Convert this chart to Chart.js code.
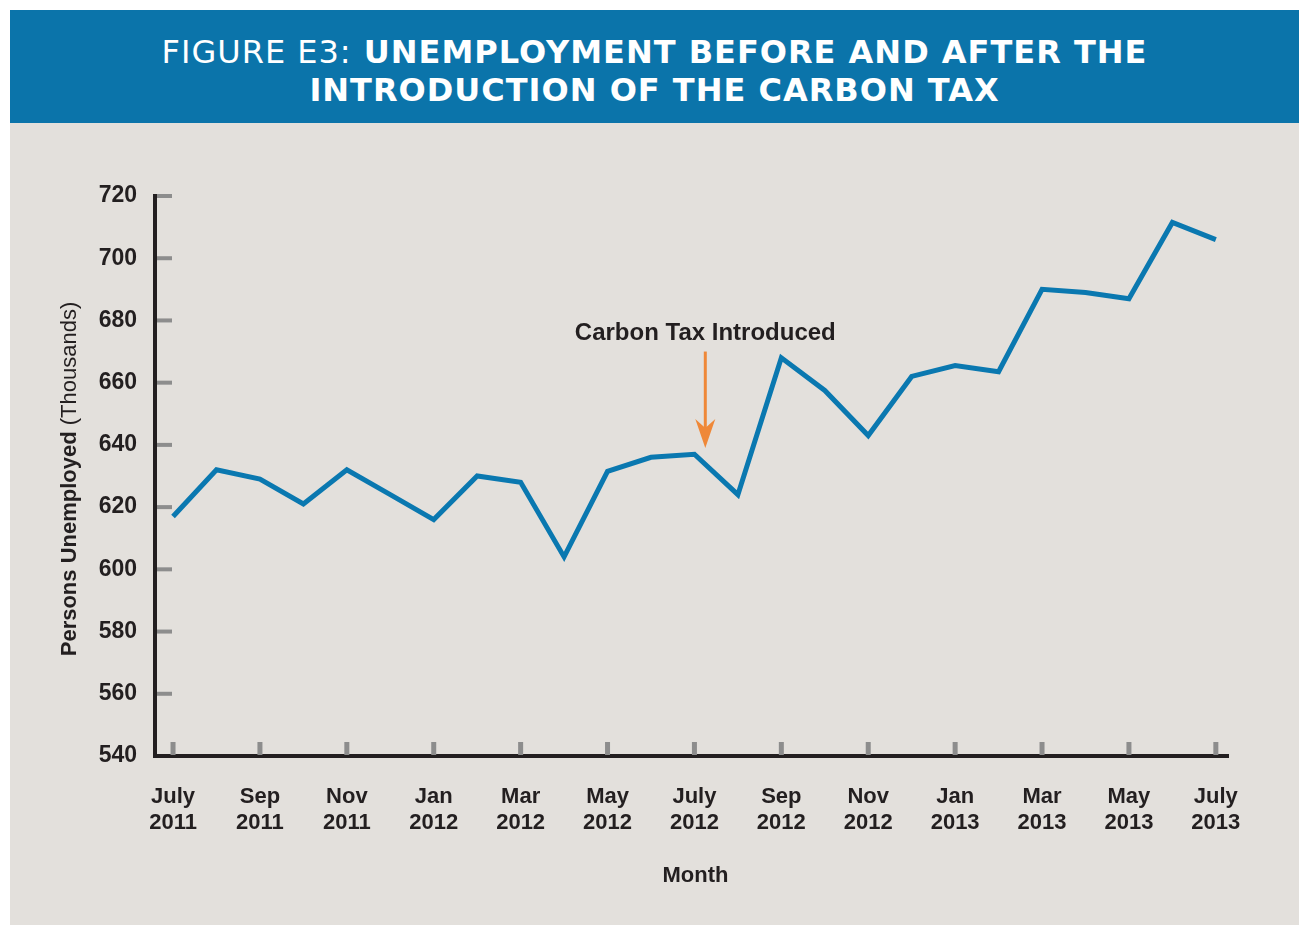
<!DOCTYPE html>
<html>
<head>
<meta charset="utf-8">
<script src="https://cdn.jsdelivr.net/npm/chart.js@4"></script>
<style>
  html, body { margin: 0; padding: 0; background: #ffffff; }
  #banner {
    position: absolute; left: 10px; top: 10px; width: 1289px; height: 113px;
    background: #0b74aa; color: #ffffff; text-align: center;
    font-family: "DejaVu Sans", sans-serif; font-weight: bold; font-size: 32px;
    letter-spacing: 1px;
    line-height: 38px; box-sizing: border-box; padding-top: 23px;
  }
  #banner .light { font-weight: normal; }
  #panel { position: absolute; left: 10px; top: 123px; width: 1289px; height: 802px; background: #e3e0dc; }
  #chart { position: absolute; left: 0; top: 0; }
</style>
</head>
<body>
<div id="banner"><span class="light">FIGURE E3:</span> UNEMPLOYMENT BEFORE AND AFTER THE<br>INTRODUCTION OF THE CARBON TAX</div>
<div id="panel"></div>
<canvas id="chart" width="1299" height="928"></canvas>
<script>
// monthly data, July 2011 - July 2013
var months = ['July','Aug','Sep','Oct','Nov','Dec','Jan','Feb','Mar','Apr','May','June',
              'July','Aug','Sep','Oct','Nov','Dec','Jan','Feb','Mar','Apr','May','June','July'];
var years = ['2011','2011','2011','2011','2011','2011','2012','2012','2012','2012','2012','2012',
             '2012','2012','2012','2012','2012','2012','2013','2013','2013','2013','2013','2013','2013'];
var unemployed = [617, 632, 629, 621, 632, 624, 616, 630, 628, 604, 631.5, 636,
                  637, 624, 668, 657.5, 643, 662, 665.5, 663.5, 690, 689, 687, 711.5, 706];
var yTicks = [540, 560, 580, 600, 620, 640, 660, 680, 700, 720];
var xTickIdx = [0, 2, 4, 6, 8, 10, 12, 14, 16, 18, 20, 22, 24];

// annotation
var annoText = 'Carbon Tax Introduced';
var annoX = 12.25;
var annoTextY = 676;
var arrowFrom = 670;
var arrowTo = 639;

var ink = '#231f20';
var points = [];
for (let i = 0; i < unemployed.length; i++) {
    points.push({x: i, y: unemployed[i]});
}

var decor = {
    id: 'decor',
    beforeDatasetsDraw: function(chart) {
        var ctx = chart.ctx, xs = chart.scales.x, ys = chart.scales.y;
        var a = chart.chartArea;
        ctx.save();
        ctx.fillStyle = '#8d8d8d';
        yTicks.forEach(function(v) {
            if (v === yTicks[0]) return;
            var py = ys.getPixelForValue(v);
            ctx.fillRect(a.left + 2, py - 2, 15, 4);
        });
        xTickIdx.forEach(function(v) {
            var px = xs.getPixelForValue(v);
            ctx.fillRect(px - 2.5, a.bottom - 14, 5, 13);
        });
        ctx.restore();
    },
    afterDraw: function(chart) {
        var ctx = chart.ctx, xs = chart.scales.x, ys = chart.scales.y;
        ctx.save();
        ctx.fillStyle = ink;
        // y axis title, bold + normal parts
        var p1 = 'Persons Unemployed', p2 = ' (Thousands)';
        ctx.font = 'bold 22px "Liberation Sans", Arial, sans-serif';
        var w1 = ctx.measureText(p1).width;
        ctx.font = '22px "Liberation Sans", Arial, sans-serif';
        var w2 = ctx.measureText(p2).width;
        ctx.translate(70, 479);
        ctx.rotate(-Math.PI / 2);
        ctx.textBaseline = 'middle';
        ctx.textAlign = 'left';
        var start = -(w1 + w2) / 2;
        ctx.font = 'bold 22px "Liberation Sans", Arial, sans-serif';
        ctx.fillText(p1, start, 0);
        ctx.font = '22px "Liberation Sans", Arial, sans-serif';
        ctx.fillText(p2, start + w1, 0);
        ctx.restore();

        ctx.save();
        ctx.fillStyle = ink;
        ctx.textAlign = 'center';
        ctx.textBaseline = 'middle';
        ctx.font = 'bold 22px "Liberation Sans", Arial, sans-serif';
        ctx.fillText('Month', (chart.chartArea.left + chart.chartArea.right) / 2 + 4, 876);

        // annotation + arrow
        var ax = xs.getPixelForValue(annoX);
        ctx.font = 'bold 24px "Liberation Sans", Arial, sans-serif';
        ctx.fillText(annoText, ax, ys.getPixelForValue(annoTextY));
        var y0 = ys.getPixelForValue(arrowFrom), y1 = ys.getPixelForValue(arrowTo);
        ctx.strokeStyle = '#ef8838';
        ctx.fillStyle = '#ef8838';
        ctx.lineWidth = 3;
        ctx.beginPath();
        ctx.moveTo(ax, y0);
        ctx.lineTo(ax, y1 - 18);
        ctx.stroke();
        ctx.beginPath();
        ctx.moveTo(ax, y1);
        ctx.lineTo(ax - 10, y1 - 29);
        ctx.lineTo(ax, y1 - 20);
        ctx.lineTo(ax + 10, y1 - 29);
        ctx.closePath();
        ctx.fill();
        ctx.restore();
    }
};

new Chart('chart', {
    type: 'line',
    data: {
        datasets: [{
            data: points,
            borderColor: '#0a78b0',
            borderWidth: 5,
            pointRadius: 0,
            tension: 0,
            borderJoinStyle: 'miter',
            borderCapStyle: 'butt'
        }]
    },
    options: {
        responsive: false,
        animation: false,
        layout: { padding: { left: 0, top: 196, right: 71, bottom: 0 } },
        plugins: { legend: { display: false }, tooltip: { enabled: false } },
        scales: {
            x: {
                type: 'linear',
                min: -0.415,
                max: 24.28,
                grid: { display: false, drawTicks: false },
                border: { display: true, color: ink, width: 4 },
                afterBuildTicks: function(s) {
                    s.ticks = xTickIdx.map(function(v) { return {value: v}; });
                },
                afterFit: function(s) { s.height = 172; },
                ticks: {
                    autoSkip: false,
                    maxRotation: 0,
                    padding: 28,
                    color: ink,
                    font: { family: '"Liberation Sans", Arial, sans-serif', size: 22, weight: 'bold', lineHeight: 1.18 },
                    callback: function(v) { return [months[v], years[v]]; }
                }
            },
            y: {
                min: 540,
                max: 720,
                grid: { display: false, drawTicks: false },
                border: { display: true, color: ink, width: 4 },
                afterBuildTicks: function(s) {
                    s.ticks = yTicks.map(function(v) { return {value: v}; });
                },
                afterFit: function(s) { s.width = 155; },
                ticks: {
                    padding: 18,
                    color: ink,
                    font: { family: '"Liberation Sans", Arial, sans-serif', size: 23, weight: 'bold' }
                }
            }
        }
    },
    plugins: [decor]
});
</script>
</body>
</html>
